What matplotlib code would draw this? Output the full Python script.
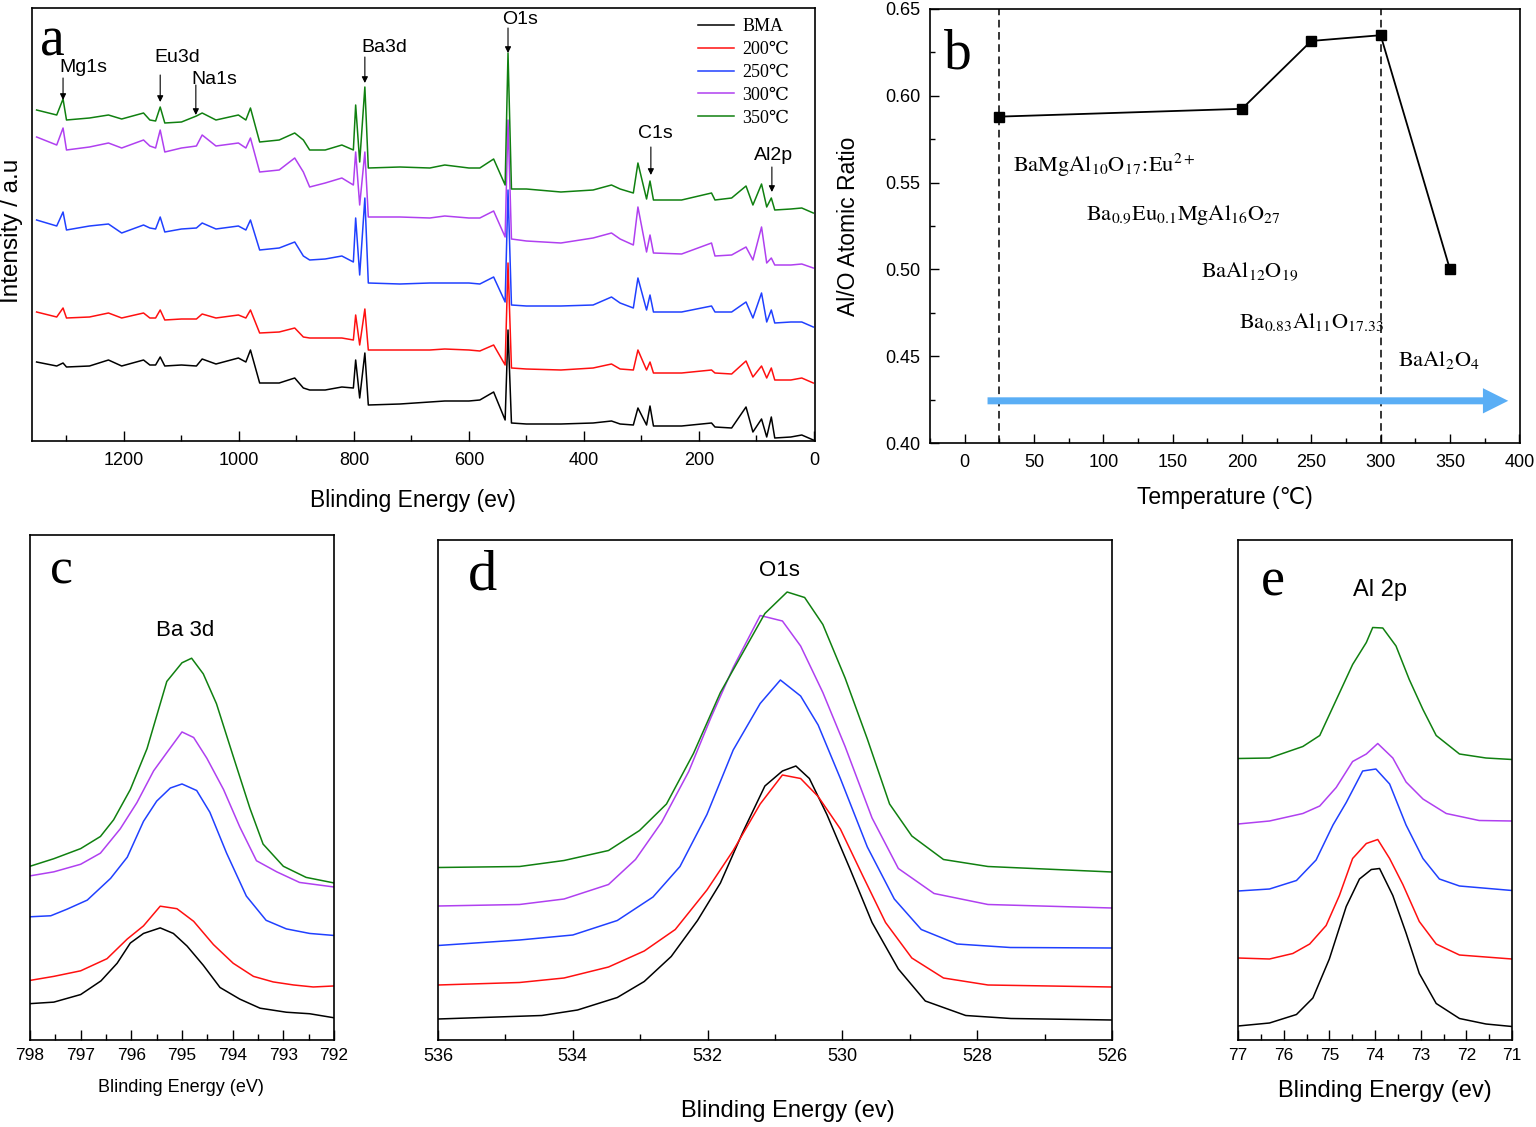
import matplotlib
matplotlib.use("Agg")
import matplotlib.pyplot as plt
from matplotlib.ticker import MultipleLocator
from matplotlib.font_manager import FontProperties

plt.rcParams['font.family'] = ['Liberation Sans', 'DejaVu Sans']
plt.rcParams['mathtext.fontset'] = 'stix'
plt.rcParams['axes.linewidth'] = 1.2

# ---------------- data ----------------
SERIES = ['BMA', '200\u2103', '250\u2103', '300\u2103', '350\u2103']
COLORS = ['#000000', '#ff1010', '#2040ff', '#b040f0', '#108010']

# panel a: survey spectra (binding energy eV, intensity a.u.)
E_SURVEY = [1352, 1317, 1306, 1300, 1260, 1227, 1204, 1166, 1155, 1145,
            1137, 1129, 1100, 1074, 1064, 1040, 1001, 988, 980, 964,
            930, 903, 888, 877, 850, 821, 801, 797, 790, 781,
            775, 720, 668, 642, 600, 581, 557, 537, 532, 526,
            500, 440, 384, 352, 337, 314, 306, 291, 285, 279,
            230, 178, 172, 143, 118, 106, 91, 82, 74, 68,
            40, 21, 1]
I_BMA = [79, 75, 78, 74, 75, 81, 75, 81, 76, 76,
         84, 75, 76, 75, 82, 77, 83, 79, 91, 58,
         58, 63, 53, 51, 51, 54, 53, 81, 43, 88,
         36, 37, 39, 40, 40, 41, 49, 21, 111, 18,
         17, 17, 18, 20, 17, 16, 33, 16, 35, 15,
         15, 18, 14, 13, 34, 9, 22, 4, 24, 3,
         4, 6, 1]
I_200 = [129, 124, 133, 123, 124, 128, 123, 128, 123, 123,
         131, 121, 122, 122, 127, 123, 126, 123, 131, 108,
         109, 113, 104, 103, 103, 103, 101, 126, 96, 132,
         91, 91, 91, 92, 91, 90, 96, 76, 178, 73,
         72, 71, 73, 77, 72, 71, 91, 71, 79, 68,
         68, 71, 68, 67, 80, 64, 75, 63, 73, 61,
         61, 63, 58]
I_250 = [221, 215, 229, 211, 215, 217, 208, 216, 213, 212,
         224, 209, 212, 213, 218, 212, 215, 211, 221, 191,
         193, 199, 185, 181, 182, 185, 179, 223, 166, 243,
         158, 157, 158, 158, 158, 157, 164, 139, 251, 136,
         135, 135, 136, 144, 138, 133, 163, 131, 146, 129,
         129, 135, 129, 129, 139, 123, 148, 119, 131, 118,
         119, 119, 114]
I_300 = [304, 296, 313, 291, 294, 298, 293, 301, 295, 293,
         311, 289, 293, 295, 306, 295, 298, 293, 303, 269,
         271, 283, 269, 254, 258, 263, 256, 289, 236, 289,
         224, 224, 223, 225, 223, 223, 230, 204, 321, 202,
         200, 198, 203, 208, 202, 196, 234, 189, 206, 188,
         187, 198, 185, 186, 194, 181, 214, 178, 183, 176,
         176, 177, 173]
I_350 = [331, 326, 342, 321, 323, 326, 322, 328, 321, 320,
         334, 318, 319, 325, 328, 321, 326, 321, 333, 299,
         301, 308, 301, 291, 291, 296, 291, 336, 279, 354,
         273, 274, 273, 276, 273, 273, 282, 256, 388, 252,
         252, 249, 251, 256, 252, 248, 278, 242, 260, 241,
         241, 248, 241, 243, 255, 236, 257, 234, 243, 231,
         232, 233, 228]
SURVEY = [I_BMA, I_200, I_250, I_300, I_350]

# peak labels in panel a
PEAK_NAMES = ['Mg1s', 'Eu3d', 'Na1s', 'Ba3d', 'O1s', 'C1s', 'Al2p']
PEAK_E = [1306, 1137, 1075, 781, 532, 283.5, 73]
ARROW_TOP = [363, 366, 356, 384, 413, 294, 274]
ARROW_TIP = [341, 339, 326, 358, 388, 266, 249]
LABEL_E = [1270, 1108, 1043, 748, 511, 275, 71]
LABEL_I = [374, 383, 361, 394, 421, 307, 285]

# panel b: Al/O ratio vs temperature
TEMP = [25, 200, 250, 300, 350]
AL_O = [0.588, 0.5925, 0.6316, 0.6349, 0.500]
PHASE_LINES = [25, 300]
PHASES = [r'$\mathrm{BaMgAl_{10}O_{17}\!:\!Eu^{2+}}$',
          r'$\mathrm{Ba_{0.9}Eu_{0.1}MgAl_{16}O_{27}}$',
          r'$\mathrm{BaAl_{12}O_{19}}$',
          r'$\mathrm{Ba_{0.83}Al_{11}O_{17.33}}$',
          r'$\mathrm{BaAl_{2}O_{4}}$']
PHASE_X = [34.7, 87.2, 170.3, 197.6, 312.8]
PHASE_Y = [0.5561, 0.5285, 0.4955, 0.466, 0.4446]

# panel c: Ba 3d
EC = {
 'BMA': ([798, 797.53, 797.0, 796.6, 796.28, 796.02, 795.76, 795.43, 795.17, 794.9, 794.58, 794.25, 793.86, 793.46, 792.94, 792.48, 792.0],
         [7.2, 7.5, 9.0, 11.7, 15.2, 19.2, 21.1, 22.2, 21.1, 18.6, 14.8, 10.4, 8.1, 6.3, 5.5, 5.2, 4.4]),
 '200': ([798, 797.53, 797.0, 796.48, 796.08, 795.76, 795.43, 795.1, 794.77, 794.38, 793.99, 793.59, 793.2, 792.8, 792.41, 792.0],
         [11.8, 12.6, 13.7, 16.1, 20.0, 22.6, 26.5, 26.0, 23.5, 18.9, 15.2, 12.6, 11.5, 10.9, 10.5, 10.7]),
 '250': ([798, 797.59, 797.27, 796.87, 796.41, 796.08, 795.76, 795.5, 795.23, 795.0, 794.71, 794.45, 794.12, 793.73, 793.34, 792.94, 792.48, 792.0],
         [24.4, 24.6, 25.9, 27.7, 32.0, 36.2, 43.3, 47.3, 49.9, 50.7, 49.4, 45.1, 37.0, 28.5, 23.7, 22.0, 21.1, 20.7]),
 '300': ([798, 797.53, 797.0, 796.61, 796.22, 795.89, 795.56, 795.3, 795.0, 794.77, 794.51, 794.18, 793.86, 793.53, 793.13, 792.68, 792.0],
         [32.5, 33.3, 34.8, 37.0, 41.8, 47.0, 53.3, 56.9, 61.0, 59.9, 55.8, 49.6, 42.2, 35.5, 33.3, 31.2, 30.3]),
 '350': ([798, 797.53, 797.0, 796.61, 796.35, 796.02, 795.69, 795.3, 795.0, 794.81, 794.58, 794.32, 793.99, 793.66, 793.4, 793.0, 792.55, 792.0],
         [34.4, 35.9, 37.9, 40.3, 43.6, 49.6, 57.7, 71.0, 74.7, 75.6, 72.5, 66.6, 56.2, 45.9, 38.8, 34.4, 32.2, 31.1]),
}
# panel d: O 1s
ED = {
 'BMA': ([536, 534.46, 533.93, 533.34, 532.94, 532.54, 532.15, 531.81, 531.48, 531.15, 530.89, 530.69, 530.49, 530.23, 529.89, 529.56, 529.17, 528.77, 528.17, 527.5, 526],
         [4.2, 4.9, 6.0, 8.5, 11.7, 16.7, 23.9, 31.4, 41.5, 50.8, 53.8, 54.8, 52.3, 45.1, 34.3, 23.5, 14.2, 7.8, 4.9, 4.3, 4.0]),
 '200': ([536, 534.79, 534.13, 533.47, 532.94, 532.48, 532.01, 531.62, 531.22, 530.89, 530.62, 530.36, 530.03, 529.70, 529.36, 528.97, 528.50, 527.84, 526],
         [11.0, 11.5, 12.4, 14.6, 17.8, 22.1, 30.0, 37.9, 47.2, 53.0, 52.3, 48.7, 42.2, 32.9, 23.5, 16.4, 12.4, 11.0, 10.6]),
 '250': ([536, 534.79, 534.0, 533.34, 532.81, 532.41, 532.01, 531.62, 531.22, 530.92, 530.62, 530.36, 530.03, 529.63, 529.23, 528.83, 528.30, 527.51, 526],
         [18.9, 20.0, 21.0, 23.9, 28.6, 34.7, 45.1, 58.0, 67.3, 72.0, 68.8, 63.0, 52.3, 38.6, 28.2, 22.1, 19.2, 18.5, 18.4]),
 '300': ([536, 534.79, 534.13, 533.47, 533.07, 532.68, 532.28, 531.95, 531.62, 531.22, 530.89, 530.62, 530.29, 529.96, 529.56, 529.17, 528.64, 527.84, 526],
         [26.8, 27.1, 28.2, 31.1, 36.1, 43.6, 53.7, 64.5, 74.5, 84.9, 83.8, 78.8, 69.5, 58.7, 44.4, 34.3, 29.3, 27.1, 26.4]),
 '350': ([536, 534.79, 534.13, 533.47, 533.01, 532.61, 532.21, 531.81, 531.48, 531.15, 530.82, 530.56, 530.29, 529.96, 529.63, 529.30, 528.97, 528.50, 527.84, 526],
         [34.5, 34.7, 35.9, 37.9, 41.9, 47.2, 57.3, 69.5, 77.4, 85.3, 89.6, 88.5, 83.1, 72.4, 60.2, 47.2, 40.8, 36.1, 34.7, 33.6]),
}
# panel e: Al 2p
EE = {
 'BMA': ([77, 76.31, 75.72, 75.36, 75.0, 74.63, 74.34, 74.08, 73.90, 73.61, 73.32, 73.03, 72.66, 72.15, 71.57, 71.0],
         [2.8, 3.4, 5.1, 8.4, 16.2, 26.7, 32.2, 34.1, 34.3, 28.9, 21.4, 13.3, 7.3, 4.3, 3.2, 2.7]),
 '200': ([77, 76.31, 75.80, 75.43, 75.07, 74.78, 74.49, 74.19, 73.94, 73.68, 73.39, 73.03, 72.66, 72.15, 71.0],
         [16.4, 16.2, 17.3, 19.2, 22.9, 28.9, 36.3, 39.3, 40.1, 36.3, 31.1, 23.7, 19.2, 17.0, 16.2]),
 '250': ([77, 76.31, 75.72, 75.29, 74.92, 74.63, 74.27, 73.98, 73.68, 73.32, 72.95, 72.59, 72.15, 71.0],
         [29.8, 30.2, 31.9, 36.0, 43.0, 47.5, 53.8, 54.2, 51.2, 43.0, 36.3, 32.2, 30.8, 29.9]),
 '300': ([77, 76.31, 75.58, 75.21, 74.85, 74.49, 74.19, 73.94, 73.61, 73.32, 72.95, 72.44, 71.72, 71.0],
         [43.2, 43.8, 45.3, 46.8, 50.5, 55.7, 57.2, 59.3, 56.4, 51.6, 48.2, 45.3, 43.9, 43.8]),
 '350': ([77, 76.31, 75.58, 75.21, 74.85, 74.49, 74.19, 74.05, 73.83, 73.54, 73.25, 72.95, 72.66, 72.15, 71.57, 71.0],
         [56.3, 56.4, 58.7, 60.9, 68.0, 75.1, 79.5, 82.5, 82.4, 78.8, 72.1, 66.1, 60.9, 57.2, 56.4, 56.1]),
}
KEYS = ['BMA', '200', '250', '300', '350']

# ---------------- figure ----------------
fig = plt.figure(figsize=(15.36, 11.27), dpi=100)
W, H = 1536.0, 1127.0

def add_ax(l, t, r, b):
    return fig.add_axes([l / W, 1 - b / H, (r - l) / W, (b - t) / H])

axa = add_ax(32, 8, 815, 441)
axb = add_ax(930, 9, 1520, 443)
axc = add_ax(30, 535, 334, 1040)
axd = add_ax(438, 540, 1112, 1040)
axe = add_ax(1238, 540, 1512, 1040)

serif = ['Liberation Serif', 'DejaVu Serif']
LW = 1.1

# ---- panel a ----
for lab, ys, c in zip(SERIES, SURVEY, COLORS):
    axa.plot(E_SURVEY, ys, color=c, lw=LW, label=lab)
axa.set_xlim(1360, -2)
axa.set_ylim(0, 433)
axa.set_yticks([])
axa.xaxis.set_major_locator(MultipleLocator(200))
axa.xaxis.set_minor_locator(MultipleLocator(100))
axa.tick_params(axis='x', which='major', direction='in', length=7, width=1.0, labelsize=13, pad=8)
axa.tick_params(axis='x', which='minor', direction='in', length=4.5, width=1.0)
axa.set_xlabel('Blinding Energy (ev)', fontsize=16.5)
axa.xaxis.set_label_coords(0.487, -0.112)
axa.set_ylabel('Intensity / a.u', fontsize=17.5)
axa.yaxis.set_label_coords(-0.012, 0.485)
for name, e, t0, t1, lx, ly in zip(PEAK_NAMES, PEAK_E, ARROW_TOP, ARROW_TIP, LABEL_E, LABEL_I):
    axa.annotate('', xy=(e, t1), xytext=(e, t0),
                 arrowprops=dict(arrowstyle='-|>', color='black', lw=0.8,
                                 mutation_scale=9, shrinkA=0, shrinkB=0))
    axa.text(lx, ly, name, fontsize=14, ha='center', va='center')
axa.text(0.01, 0.891, 'a', transform=axa.transAxes, fontsize=40,
         family=serif, ha='left', va='baseline')
leg = axa.legend(loc='upper left', bbox_to_anchor=(0.851, 0.976), frameon=False,
                 prop=FontProperties(family=serif, size=13), handlelength=2.0,
                 handletextpad=0.45, labelspacing=0.32, borderpad=0, borderaxespad=0)

# ---- panel b ----
for xv in PHASE_LINES:
    axb.axvline(xv, color='black', lw=1.1, ls=(0, (5, 3)))
axb.plot(TEMP, AL_O, color='black', lw=1.3, marker='s', ms=7, mfc='black', mec='black')
axb.set_xlim(-25, 400.5)
axb.set_ylim(0.40, 0.65)
axb.xaxis.set_major_locator(MultipleLocator(50))
axb.xaxis.set_minor_locator(MultipleLocator(25))
axb.yaxis.set_major_locator(MultipleLocator(0.05))
axb.yaxis.set_minor_locator(MultipleLocator(0.025))
axb.yaxis.set_major_formatter(matplotlib.ticker.FormatStrFormatter('%.2f'))
axb.tick_params(which='major', direction='in', length=6.5, width=1.0, labelsize=13)
axb.tick_params(which='minor', direction='in', length=3.5, width=1.0)
axb.tick_params(axis='x', which='major', pad=8)
axb.tick_params(axis='y', which='major', pad=7)
axb.set_xlabel('Temperature (\u2103)', fontsize=16.5)
axb.xaxis.set_label_coords(0.5, -0.1)
axb.set_ylabel('Al/O Atomic Ratio', fontsize=16.5)
axb.yaxis.set_label_coords(-0.118, 0.5)
for txt, xv, yv in zip(PHASES, PHASE_X, PHASE_Y):
    axb.text(xv, yv, txt, fontsize=16, ha='left', va='baseline')
axb.annotate('', xy=(392, 0.4243), xytext=(16.5, 0.4243),
             arrowprops=dict(arrowstyle='simple,head_length=1.3,head_width=1.3,tail_width=0.36',
                             color='#5aaef5', lw=0, mutation_scale=14, shrinkA=0, shrinkB=0))
axb.text(0.024, 0.864, 'b', transform=axb.transAxes, fontsize=40,
         family=serif, ha='left', va='baseline')

# ---- panels c, d, e ----
def hr_panel(ax, data, xlim, major, minor, ticksize, xlabel, lsize, lcoords,
             title, tpos, tsize, letter, lpos, letsize):
    for k, c in zip(KEYS, COLORS):
        xs, ys = data[k]
        ax.plot(xs, ys, color=c, lw=LW)
    ax.set_xlim(*xlim)
    ax.set_ylim(0, 100)
    ax.set_yticks([])
    ax.xaxis.set_major_locator(MultipleLocator(major))
    ax.xaxis.set_minor_locator(MultipleLocator(minor))
    ax.tick_params(axis='x', which='major', direction='in', length=7, width=1.0,
                   labelsize=ticksize, pad=6)
    ax.tick_params(axis='x', which='minor', direction='in', length=4, width=1.0)
    ax.set_xlabel(xlabel, fontsize=lsize)
    ax.xaxis.set_label_coords(*lcoords)
    ax.text(tpos[0], tpos[1], title, transform=ax.transAxes, fontsize=tsize,
            ha='center', va='center')
    ax.text(lpos[0], lpos[1], letter, transform=ax.transAxes, fontsize=letsize,
            family=serif, ha='left', va='baseline')

hr_panel(axc, EC, (798, 792), 1, 0.5, 12.5, 'Blinding Energy (eV)', 13, (0.497, -0.077),
         'Ba 3d', (0.51, 0.81), 16, 'c', (0.065, 0.903), 37)
hr_panel(axd, ED, (536, 526), 2, 1, 13, 'Blinding Energy (ev)', 17, (0.519, -0.12),
         'O1s', (0.507, 0.94), 16, 'd', (0.045, 0.902), 42)
hr_panel(axe, EE, (77, 71), 1, 0.5, 12.5, 'Blinding Energy (ev)', 17, (0.536, -0.08),
         'Al 2p', (0.518, 0.90), 17, 'e', (0.085, 0.89), 39)

fig.savefig('out.png', dpi=100)
